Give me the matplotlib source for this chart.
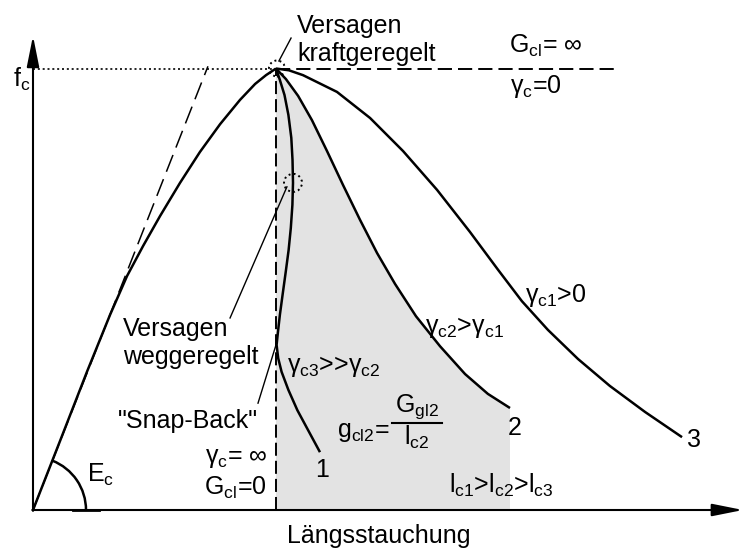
import matplotlib
matplotlib.use('Agg')
import matplotlib.pyplot as plt
import numpy as np
from matplotlib.patches import Ellipse, Arc

plt.rcParams['font.family'] = ['Liberation Sans', 'DejaVu Sans']
plt.rcParams['font.size'] = 18
plt.rcParams['mathtext.fontset'] = 'custom'
plt.rcParams['mathtext.rm'] = 'Liberation Sans'
plt.rcParams['mathtext.it'] = 'Liberation Sans:italic'
plt.rcParams['mathtext.default'] = 'regular'

# strain eps/eps_c1 and stress sigma/f_c
rise_x = [0, 0.111, 0.222, 0.317, 0.387, 0.453, 0.523, 0.605, 0.687, 0.770, 0.852, 0.914, 0.959, 1.0]
rise_y = [0, 0.156, 0.313, 0.442, 0.530, 0.598, 0.666, 0.741, 0.811, 0.874, 0.929, 0.965, 0.985, 1.0]

# initial tangent (E_c)
tan_x = [0, 0.72]
tan_y = [0, 1.005]

# softening branches 1 (snap-back), 2 and 3
c1_x = [1.0, 1.016, 1.035, 1.051, 1.063, 1.068, 1.070, 1.0675, 1.061, 1.052, 1.040, 1.027,
        1.016, 1.008, 1.0025, 1.009, 1.023, 1.051, 1.088, 1.132, 1.181]
c1_y = [1.0, 0.974, 0.940, 0.895, 0.843, 0.793, 0.741, 0.691, 0.639, 0.589, 0.539, 0.487,
        0.442, 0.403, 0.374, 0.344, 0.313, 0.272, 0.226, 0.181, 0.131]

c2_x = [1.0, 1.041, 1.091, 1.148, 1.210, 1.276, 1.346, 1.416, 1.490, 1.576, 1.675, 1.778, 1.872, 1.963]
c2_y = [1.0, 0.976, 0.938, 0.883, 0.813, 0.736, 0.657, 0.582, 0.512, 0.439, 0.371, 0.308, 0.263, 0.231]

c3_x = [1.0, 1.053, 1.111, 1.251, 1.387, 1.523, 1.663, 1.798, 1.914, 2.012, 2.119, 2.243, 2.374, 2.519, 2.671]
c3_y = [1.0, 0.996, 0.985, 0.947, 0.888, 0.813, 0.725, 0.630, 0.544, 0.473, 0.408, 0.342, 0.281, 0.222, 0.165]

eps_peak = 1.0
f_c = 1.0
plateau_end = 2.395      # G_cl = inf, horizontal branch
x_end = 2.922
y_end = 1.074

fig = plt.figure(figsize=(7.44, 5.5), dpi=100)
ax = fig.add_axes([0, 0, 1, 1])
ax.set_xlim(-0.1358, 2.926)
ax.set_ylim(-0.0906, 1.1552)
ax.axis('off')

# shaded fracture energy area under branch 2
ax.fill([c2_x[0]] + c2_x + [c2_x[-1]], [0] + c2_y + [0], color='#e3e3e3', lw=0, zorder=0)

# axes with arrows
arr = dict(arrowstyle='-|>,head_length=0.75,head_width=0.15', lw=1.5, color='k',
           mutation_scale=25, shrinkA=0, shrinkB=0)
ax.annotate('', xy=(0, y_end), xytext=(0, -0.002), arrowprops=arr)
ax.annotate('', xy=(x_end, 0), xytext=(-0.003, 0), arrowprops=arr)

# reference lines
ax.plot([0, eps_peak], [f_c, f_c], color='k', lw=1.2, dashes=(1.2, 1.7))
ax.plot([eps_peak, plateau_end], [f_c, f_c], color='k', lw=1.4, dashes=(7.3, 3.1))
ax.plot([eps_peak, eps_peak], [0, f_c], color='k', lw=1.4, dashes=(6.7, 2.6))
ax.plot(tan_x, tan_y, color='k', lw=1.1, dashes=(11.8, 5.2))

# curves
for xs, ys in [(rise_x, rise_y), (c1_x, c1_y), (c2_x, c2_y), (c3_x, c3_y)]:
    ax.plot(xs, ys, color='k', lw=1.8, solid_capstyle='butt', solid_joinstyle='round')

# dotted marker circles
ax.add_patch(Ellipse((1.004, 1.0), 16 / 243, 16 / 441.5, fill=False, ls=':', lw=1.4))
ax.add_patch(Ellipse((1.070, 0.741), 18 / 243, 18 / 441.5, fill=False, ls=':', lw=1.4))

# E_c angle
ang = np.degrees(np.arctan2(tan_y[1], tan_x[1]))
ax.add_patch(Arc((0, 0), 2 * 53 / 243, 2 * 53 / 441.5, theta1=0, theta2=ang, lw=1.8))
ax.plot([0.165, 0.272], [0, 0], color='k', lw=2.0)

# leader lines
ax.plot([1.012, 1.062], [1.017, 1.069], color='k', lw=1.0)
ax.plot([0.811, 1.045], [0.435, 0.732], color='k', lw=1.0)
ax.plot([0.926, 1.004], [0.242, 0.381], color='k', lw=1.0)

kw = dict(va='baseline')
ax.text(-0.082, 0.958, r'$f_c$', **kw)
ax.text(1.086, 1.080, 'Versagen', **kw)
ax.text(1.086, 1.017, 'kraftgeregelt', **kw)
ax.text(1.959, 1.035, r'$G_{cl}$= ∞', **kw)
ax.text(1.963, 0.945, r'$γ_c$=0', **kw)
ax.text(0.370, 0.394, 'Versagen', **kw)
ax.text(0.370, 0.331, 'weggeregelt', **kw)
ax.text(0.350, 0.186, '"Snap-Back"', **kw)
ax.text(0.963, 0.106, r'$γ_c$= ∞', ha='right', **kw)
ax.text(0.963, 0.034, r'$G_{cl}$=0', ha='right', **kw)
ax.text(0.222, 0.063, r'$E_c$', **kw)
ax.text(1.160, 0.075, '1', **kw)
ax.text(1.955, 0.170, '2', **kw)
ax.text(2.691, 0.143, '3', **kw)
ax.text(1.045, 0.313, r'$γ_{c3}$>>$γ_{c2}$', **kw)
ax.text(1.613, 0.401, r'$γ_{c2}$>$γ_{c1}$', **kw)
ax.text(2.025, 0.471, r'$γ_{c1}$>0', **kw)
ax.text(1.251, 0.165, r'$g_{cl2}$=', **kw)
ax.text(1.580, 0.222, r'$G_{gl2}$', ha='center', **kw)
ax.plot([1.477, 1.683], [0.197, 0.197], color='k', lw=1.5)
ax.text(1.580, 0.147, r'$l_{c2}$', ha='center', **kw)
ax.text(1.712, 0.0385, r'$l_{c1}$>$l_{c2}$>$l_{c3}$', **kw)
ax.text(1.424, -0.075, 'Längsstauchung', ha='center', **kw)

fig.savefig('out.png', dpi=100)
